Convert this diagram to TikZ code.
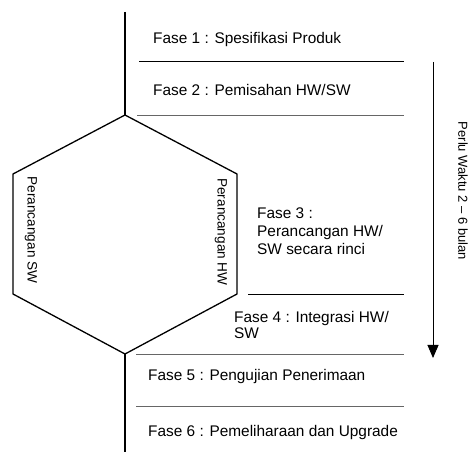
\documentclass[tikz,border=0pt]{standalone}
\usepackage{fontspec}
\setmainfont{Liberation Sans}
\usetikzlibrary{arrows.meta}

\begin{document}
\begin{tikzpicture}[
    x=1pt, y=-1pt,
    fase/.style={font=\fontsize{15.4}{18}\selectfont, anchor=base west,
        inner sep=0pt, align=left},
    sisi/.style={font=\fontsize{13.6}{16}\selectfont, rotate=-90, inner sep=0pt},
    garis/.style={line width=1.3pt, black},
    batas/.style={line width=0.9pt, black},
    batasabu/.style={line width=0.9pt, black!60},
]
\useasboundingbox (0,0) rectangle (474,454);

% Spine and hexagon corners
\coordinate (atas) at (125, 12);
\coordinate (puncak) at (125, 115);
\coordinate (ka) at (237, 174);
\coordinate (kb) at (237, 294);
\coordinate (dasar) at (125, 354);
\coordinate (kib) at (13, 294);
\coordinate (kia) at (13, 174);
\coordinate (bawah) at (125, 452);

\draw[garis] (atas) -- (puncak);
\draw[garis, line join=miter] (puncak) -- (ka) -- (kb) -- (dasar)
    -- (kib) -- (kia) -- cycle;
\draw[garis] (dasar) -- (bawah);

% Phase separators
\coordinate (g1a) at (139, 61);   \coordinate (g1b) at (404, 61);
\coordinate (g2a) at (137, 115);  \coordinate (g2b) at (404, 115);
\coordinate (g3a) at (248, 294);  \coordinate (g3b) at (404, 294);
\coordinate (g4a) at (136, 354);  \coordinate (g4b) at (404, 354);
\coordinate (g5a) at (136, 406);  \coordinate (g5b) at (404, 406);

\draw[batas] (g1a) -- (g1b);
\draw[batasabu] (g2a) -- (g2b);
\draw[batas] (g3a) -- (g3b);
\draw[batasabu] (g4a) -- (g4b);
\draw[batasabu] (g5a) -- (g5b);

% Phase labels (base = last line)
\node[fase] (f1) at (153, 44) {Fase 1 : Spesifikasi Produk};
\node[fase] (f2) at (153, 96) {Fase 2 : Pemisahan HW/SW};
\node[fase] (f3) at (257, 255) {Fase 3 :\\Perancangan HW/\\SW secara rinci};
\node[fase, font=\fontsize{15.4}{17}\selectfont] (f4) at (234, 339)
    {Fase 4 : Integrasi HW/\\SW};
\node[fase] (f5) at (148, 381) {Fase 5 : Pengujian Penerimaan};
\node[fase] (f6) at (148, 436) {Fase 6 : Pemeliharaan dan Upgrade};

% Hexagon sides
\node[sisi] (sw) at (31, 230) {Perancangan  SW};
\node[sisi] (hw) at (221, 232) {Perancangan HW};

% Duration arrow
\coordinate (pa) at (433, 62);
\coordinate (pb) at (433, 358);
\draw[line width=0.9pt, -{Triangle[width=11pt, length=13pt]}] (pa) -- (pb);
\node[sisi, font=\fontsize{13}{15}\selectfont] (waktu) at (463, 191)
    {Perlu Waktu 2 -- 6 bulan};

\end{tikzpicture}
\end{document}
